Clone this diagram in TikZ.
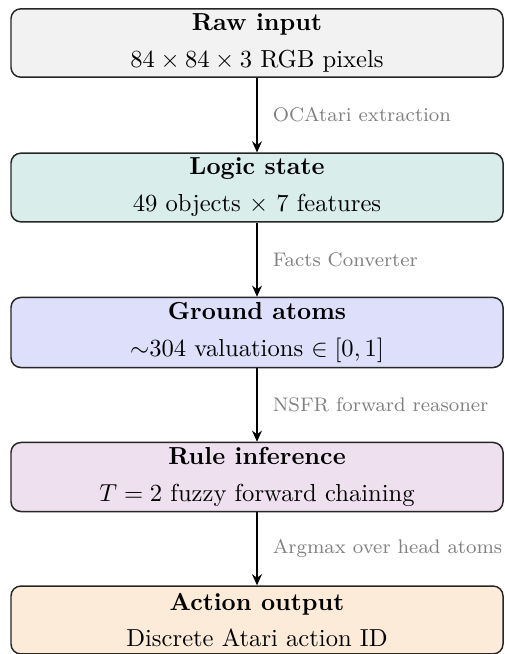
\documentclass[tikz,border=0pt]{standalone}
\usetikzlibrary{arrows.meta}

\definecolor{rawfill}{RGB}{242,242,242}
\definecolor{logicfill}{RGB}{217,237,235}
\definecolor{atomfill}{RGB}{222,223,251}
\definecolor{rulefill}{RGB}{239,224,239}
\definecolor{actfill}{RGB}{253,235,218}

\tikzset{
  stage/.style={draw=black!85, line width=0.6pt, rounded corners=4pt,
    minimum width=200pt, minimum height=27.6pt, align=center, inner sep=2pt},
  flow/.style={-{Stealth[length=4.5pt,width=4pt]}, line width=0.8pt},
  steplabel/.style={anchor=west, inner sep=0pt, xshift=6pt, font=\footnotesize,
    text=black!50}
}

\begin{document}
\begin{tikzpicture}[x=0.4065pt, y=-0.4065pt]
  \useasboundingbox (0,0) rectangle (504,654);

  \node[stage, fill=rawfill]   (raw)   at (257,43)
    {\textbf{Raw input}\\[3pt]$84\times84\times3$ RGB pixels};
  \node[stage, fill=logicfill] (logic) at (257,187.5)
    {\textbf{Logic state}\\[3pt]49 objects $\times$ 7 features};
  \node[stage, fill=atomfill]  (atoms) at (257,332.5)
    {\textbf{Ground atoms}\\[3pt]$\sim$304 valuations $\in[0,1]$};
  \node[stage, fill=rulefill]  (rules) at (257,477)
    {\textbf{Rule inference}\\[3pt]$T=2$ fuzzy forward chaining};
  \node[stage, fill=actfill]   (act)   at (257,620)
    {\textbf{Action output}\\[3pt]Discrete Atari action ID};

  \draw[flow] (raw)   -- node[steplabel] (l1) {OCAtari extraction} (logic);
  \draw[flow] (logic) -- node[steplabel] (l2) {Facts Converter} (atoms);
  \draw[flow] (atoms) -- node[steplabel] (l3) {NSFR forward reasoner} (rules);
  \draw[flow] (rules) -- node[steplabel] (l4) {Argmax over head atoms} (act);
\end{tikzpicture}
\end{document}
